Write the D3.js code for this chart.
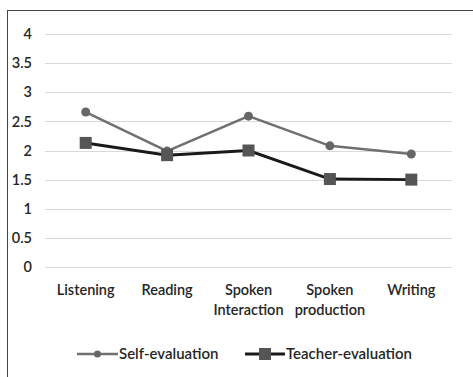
<!DOCTYPE html>
<html><head><meta charset="utf-8">
<script src="https://cdn.jsdelivr.net/npm/d3@7"></script>
<style>body{margin:0;background:#fff}svg{display:block}text{font-family:Lato,"Open Sans",sans-serif;fill:#262626}</style>
</head><body><svg id="c" width="473" height="377"></svg>
<script>
const categories = [["Listening"],["Reading"],["Spoken","Interaction"],["Spoken","production"],["Writing"]];
const selfEval = [2.66, 1.99, 2.59, 2.08, 1.94];
const teacherEval = [2.13, 1.92, 2.0, 1.51, 1.50];
const yTicks = [0, 0.5, 1, 1.5, 2, 2.5, 3, 3.5, 4];
const seriesNames = ["Self-evaluation", "Teacher-evaluation"];

const svg = d3.select("#c");
svg.append("rect").attr("x",7.5).attr("y",10.5).attr("width",470).attr("height",380)
  .attr("fill","#fff").attr("stroke","#444").attr("stroke-width",1);

const x = d3.scalePoint().domain(d3.range(categories.length)).range([45,452]).padding(0.5);
const y = d3.scaleLinear().domain([0,4]).range([267,34]);

// grid
svg.append("g").selectAll("line").data(yTicks).join("line")
  .attr("x1",45).attr("x2",452).attr("y1",d=>Math.round(y(d))+0.5).attr("y2",d=>Math.round(y(d))+0.5)
  .attr("stroke","#d9d9d9").attr("stroke-width",1);

// y axis labels
const yAxis = d3.axisLeft(y).tickValues(yTicks).tickSize(0).tickPadding(0).tickFormat(d=>String(d));
const ya = svg.append("g").attr("transform","translate(32,0)").call(yAxis);
ya.select(".domain").remove();
ya.selectAll("text").attr("font-size",14.5).attr("fill","#262626").style("font-family","Lato,sans-serif").style("font-weight",600);

// x labels
const xg = svg.append("g");
categories.forEach((lines,i)=>{
  const t = xg.append("text").attr("x",x(i)).attr("y",295).attr("text-anchor","middle").attr("font-size",14.5).style("font-weight",600);
  lines.forEach((l,j)=>t.append("tspan").attr("x",x(i)).attr("dy", j?20:0).text(l));
});

const line = d3.line().x((d,i)=>x(i)).y(d=>y(d));
// self
svg.append("path").datum(selfEval).attr("d",line).attr("fill","none").attr("stroke","#707070").attr("stroke-width",2.5);
svg.append("g").selectAll("circle").data(selfEval).join("circle")
  .attr("cx",(d,i)=>x(i)).attr("cy",d=>y(d)).attr("r",4.5).attr("fill","#666");
// teacher
svg.append("path").datum(teacherEval).attr("d",line).attr("fill","none").attr("stroke","#1a1a1a").attr("stroke-width",3);
svg.append("g").selectAll("rect").data(teacherEval).join("rect")
  .attr("x",(d,i)=>x(i)-6).attr("y",d=>y(d)-6).attr("width",12).attr("height",12).attr("fill","#555");

// legend
const lg = svg.append("g");
lg.append("line").attr("x1",77).attr("x2",118).attr("y1",354).attr("y2",354).attr("stroke","#707070").attr("stroke-width",2.5);
lg.append("circle").attr("cx",97.5).attr("cy",354).attr("r",3.5).attr("fill","#666");
lg.append("text").attr("x",119).attr("y",359).attr("font-size",15).style("font-weight",600).text(seriesNames[0]);
lg.append("line").attr("x1",245).attr("x2",285).attr("y1",354).attr("y2",354).attr("stroke","#1a1a1a").attr("stroke-width",3);
lg.append("rect").attr("x",259).attr("y",348).attr("width",12).attr("height",12).attr("fill","#555");
lg.append("text").attr("x",286).attr("y",359).attr("font-size",15).style("font-weight",600).text(seriesNames[1]);
</script></body></html>
